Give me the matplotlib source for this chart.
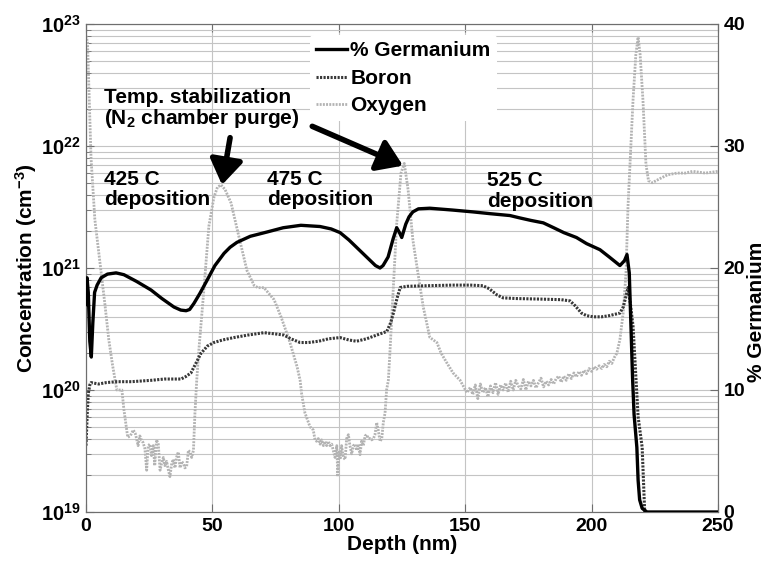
import matplotlib
matplotlib.use("Agg")
import matplotlib.pyplot as plt
from matplotlib.lines import Line2D

plt.rcParams['font.family'] = ['Liberation Sans', 'DejaVu Sans']
plt.rcParams['font.weight'] = 'bold'
plt.rcParams['mathtext.fontset'] = 'custom'
plt.rcParams['mathtext.rm'] = 'Liberation Sans:bold'
plt.rcParams['mathtext.it'] = 'Liberation Sans:bold:italic'
plt.rcParams['mathtext.bf'] = 'Liberation Sans:bold'
plt.rcParams['mathtext.default'] = 'rm'

# ---- SIMS depth profile data ----
# Germanium fraction (%), right axis
ge_depth = [0.0, 0.4, 0.9, 1.5, 2.1, 2.7, 3.4, 4.4, 6.0, 8.5, 11.9, 15.0, 20.0,
            25.7, 30.0, 34.8, 37.5, 39.6, 41.0, 42.7, 45.0, 47.9, 51.0, 54.6,
            57.0, 59.7, 65.0, 71.6, 78.0, 85.0, 92.6, 97.0, 100.5, 104.0,
            107.0, 110.0, 112.0, 114.5, 116.3, 117.5, 119.5, 121.5, 122.9,
            124.0, 124.9, 126.5, 127.8, 129.3, 131.5, 136.0, 145.0, 153.0,
            160.0, 167.7, 171.7, 176.0, 180.9, 185.0, 189.0, 194.0, 198.0,
            203.3, 207.0, 211.2, 213.0, 214.0, 214.9, 215.6, 216.2, 216.8,
            217.9, 218.4, 219.0, 220.0, 221.9, 235.0, 250.0]
ge_pct = [17.0, 19.2, 18.0, 14.0, 12.7, 15.5, 18.0, 18.6, 19.2, 19.5, 19.6, 19.45,
          18.9, 18.2, 17.5, 16.8, 16.55, 16.5, 16.6, 17.1, 17.9, 19.0, 20.2,
          21.2, 21.7, 22.1, 22.6, 22.95, 23.3, 23.5, 23.4, 23.2, 22.9, 22.3,
          21.7, 21.1, 20.7, 20.2, 20.0, 20.2, 20.9, 22.4, 23.3, 22.9, 22.5,
          23.6, 24.2, 24.6, 24.85, 24.9, 24.75, 24.6, 24.45, 24.3, 24.1, 23.9,
          23.7, 23.3, 22.9, 22.5, 22.0, 21.5, 20.9, 20.2, 20.6, 21.1, 19.6,
          15.0, 11.0, 8.0, 5.3, 2.6, 1.0, 0.3, 0.0, 0.0, 0.0]

# Boron concentration (cm^-3), left axis
b_depth = [0.0, 0.5, 0.9, 1.5, 2.0, 5.0, 8.0, 12.2, 18.0, 25.7, 31.0, 37.6, 39.5,
           41.5, 43.5, 45.5, 48.0, 50.6, 54.0, 58.5, 64.0, 70.4, 75.0, 78.3,
           81.0, 84.7, 88.0, 92.0, 96.0, 100.5, 104.0, 107.0, 111.0, 115.0,
           119.0, 120.5, 121.6, 123.0, 124.3, 127.0, 135.0, 145.0, 152.0,
           157.0, 159.5, 162.5, 165.0, 170.0, 180.0, 188.0, 191.5, 193.5,
           196.0, 198.0, 200.6, 204.0, 207.0, 211.2, 212.5, 213.5, 214.4,
           215.4, 216.4, 217.4, 218.4, 220.0, 221.0, 222.0]
b_conc = [3.5e19, 6.5e19, 9.3e19, 1.10e20, 1.15e20, 1.12e20, 1.15e20, 1.17e20,
          1.17e20, 1.20e20, 1.23e20, 1.23e20, 1.29e20, 1.38e20, 1.66e20,
          2.0e20, 2.29e20, 2.45e20, 2.57e20, 2.69e20, 2.82e20, 2.95e20,
          2.88e20, 2.82e20, 2.63e20, 2.45e20, 2.45e20, 2.51e20, 2.63e20,
          2.69e20, 2.57e20, 2.51e20, 2.63e20, 2.82e20, 3.02e20, 3.55e20,
          4.27e20, 5.62e20, 6.92e20, 7.08e20, 7.16e20, 7.24e20, 7.24e20,
          7.16e20, 6.76e20, 6.03e20, 5.69e20, 5.62e20, 5.56e20, 5.50e20,
          5.37e20, 4.90e20, 4.27e20, 4.07e20, 3.98e20, 3.98e20, 4.07e20,
          4.27e20, 4.79e20, 5.75e20, 6.92e20, 5.01e20, 3.31e20, 1.41e20,
          6.03e19, 3.39e19, 1.0e19, 1.0e18]

# Oxygen concentration (cm^-3), left axis: (depth nm, concentration)
oxygen_points = [
    (0.0, 8.0e22), (0.6, 7.1e22), (1.2, 2.8e22), (2.0, 7.9e21), (3.5, 2.5e21),
    (5.9, 9.5e20), (7.5, 5.0e20), (9.0, 2.6e20), (10.5, 1.6e20), (12.2, 1.0e20),
    (14.2, 1.0e20), (15.0, 6.9e19), (16.5, 4.1e19), (17.5, 4.2e19), (18.7, 4.7e19),
    (19.5, 4.4e19), (20.0, 4.0e19), (20.6, 3.5e19), (21.3, 4.2e19), (21.9, 3.9e19),
    (22.6, 3.7e19), (23.3, 3.3e19), (24.0, 2.2e19), (24.6, 3.5e19), (25.3, 3.6e19),
    (25.9, 2.9e19), (26.6, 3.5e19), (27.2, 2.4e19), (27.9, 3.9e19), (28.6, 3.6e19),
    (29.3, 2.2e19), (29.9, 2.5e19), (30.6, 2.8e19), (31.2, 2.4e19), (31.9, 2.6e19),
    (32.6, 2.2e19), (33.2, 1.95e19), (33.9, 2.5e19), (34.5, 2.7e19), (35.2, 2.3e19),
    (35.8, 2.8e19), (36.5, 3.1e19), (37.2, 2.3e19), (37.8, 2.6e19), (38.5, 2.5e19),
    (39.1, 2.3e19), (39.8, 2.35e19), (40.5, 3.2e19), (41.1, 3.1e19), (41.8, 2.8e19),
    (42.5, 3.2e19), (43.1, 6.5e19), (43.8, 1.2e20), (44.7, 2.2e20), (46.7, 6.9e20),
    (48.6, 2.2e21), (50.6, 3.8e21), (52.0, 4.6e21), (53.4, 4.8e21), (55.0, 4.4e21),
    (57.4, 3.4e21), (60.5, 1.8e21), (63.7, 9.5e20), (66.5, 7.2e20), (68.0, 6.9e20),
    (70.4, 6.9e20), (72.0, 6.3e20), (74.4, 5.5e20), (77.1, 4.0e20), (80.3, 2.6e20),
    (83.5, 1.55e20), (84.7, 1.2e20), (85.3, 9.3e19), (86.6, 6.5e19), (88.6, 5.0e19),
    (89.9, 4.7e19), (90.6, 3.9e19), (91.2, 3.8e19), (91.9, 4.0e19), (92.6, 3.6e19),
    (93.2, 3.9e19), (93.9, 3.5e19), (94.5, 3.8e19), (95.2, 3.5e19), (95.9, 3.8e19),
    (96.5, 3.5e19), (97.2, 3.6e19), (97.8, 3.2e19), (98.5, 2.8e19), (99.2, 3.5e19),
    (99.6, 1.95e19), (100.1, 3.1e19), (100.5, 2.7e19), (101.1, 3.5e19), (101.8, 2.8e19),
    (102.5, 2.7e19), (103.1, 4.0e19), (103.8, 4.3e19), (104.4, 3.5e19), (105.1, 3.0e19),
    (105.8, 3.5e19), (106.4, 3.6e19), (107.1, 3.2e19), (107.7, 3.6e19), (108.4, 2.95e19),
    (109.0, 3.8e19), (109.7, 3.5e19), (110.4, 4.2e19), (111.0, 4.3e19), (111.7, 4.0e19),
    (112.3, 4.0e19), (113.0, 3.9e19), (113.7, 4.0e19), (114.3, 4.3e19), (115.0, 5.4e19),
    (115.6, 4.7e19), (116.3, 3.8e19), (117.0, 4.0e19), (117.6, 5.4e19), (118.3, 6.5e19),
    (118.9, 1.0e20), (119.6, 1.2e20), (120.2, 2.0e20), (121.5, 6.6e20), (122.9, 2.3e21),
    (124.6, 6.0e21), (125.9, 7.2e21), (127.4, 4.4e21), (129.3, 1.7e21), (131.3, 9.1e20),
    (133.4, 4.8e20), (136.0, 2.7e20), (138.8, 2.45e20), (140.5, 2.0e20), (142.8, 1.66e20),
    (145.2, 1.38e20), (148.0, 1.2e20), (150.7, 9.5e19), (152.0, 1.05e20), (153.0, 0.92e20),
    (154.0, 1.1e20), (155.0, 0.85e20), (156.0, 1.12e20), (157.0, 0.95e20), (158.0, 1.05e20),
    (159.0, 0.88e20), (160.0, 1.08e20), (161.0, 0.95e20), (162.0, 1.15e20), (163.0, 0.92e20),
    (164.0, 1.1e20), (165.0, 1.0e20), (166.0, 1.14e20), (167.0, 0.96e20), (168.0, 1.18e20),
    (169.0, 1.0e20), (170.0, 1.2e20), (171.0, 1.08e20), (172.0, 1.02e20), (173.0, 1.22e20),
    (174.0, 1.0e20), (175.0, 1.18e20), (176.0, 1.08e20), (177.0, 1.2e20), (178.0, 1.04e20),
    (179.0, 1.15e20), (180.0, 1.25e20), (181.0, 1.06e20), (182.0, 1.18e20), (183.0, 1.1e20),
    (184.0, 1.22e20), (185.0, 1.12e20), (186.0, 1.24e20), (187.0, 1.3e20), (188.0, 1.16e20),
    (189.0, 1.3e20), (190.0, 1.2e20), (191.0, 1.36e20), (192.0, 1.24e20), (193.0, 1.38e20),
    (194.0, 1.28e20), (195.0, 1.42e20), (196.0, 1.32e20), (197.0, 1.45e20), (198.0, 1.36e20),
    (199.0, 1.5e20), (200.0, 1.42e20), (201.0, 1.55e20), (202.0, 1.48e20), (203.0, 1.58e20),
    (204.0, 1.5e20), (205.0, 1.62e20), (206.0, 1.55e20), (207.0, 1.72e20), (208.0, 1.65e20),
    (209.0, 1.85e20), (210.0, 2.0e20), (211.2, 2.6e20), (212.5, 4.3e20), (213.6, 9.1e20),
    (214.4, 3.2e21), (215.6, 1.1e22), (216.4, 2.4e22), (217.5, 5.6e22), (218.4, 7.8e22),
    (219.2, 5.6e22), (220.3, 2.4e22), (221.5, 7.1e21), (222.5, 5.2e21), (224.0, 5.0e21),
    (227.0, 5.4e21), (230.0, 5.8e21), (233.8, 6.0e21), (237.0, 6.0e21), (240.0, 6.2e21),
    (245.0, 6.0e21), (250.0, 6.2e21),
]
o_depth = [p[0] for p in oxygen_points]
o_conc = [p[1] for p in oxygen_points]

# labels
series_names = ['% Germanium', 'Boron', 'Oxygen']
phase_labels = ['425 C\ndeposition', '475 C\ndeposition', '525 C\ndeposition']
purge_label = 'Temp. stabilization\n(N$_2$ chamber purge)'
left_ticks = [1e19, 1e20, 1e21, 1e22, 1e23]
left_tick_labels = [r'$10^{19}$', r'$10^{20}$', r'$10^{21}$', r'$10^{22}$', r'$10^{23}$']
right_ticks = [0, 10, 20, 30, 40]
x_ticks = [0, 50, 100, 150, 200, 250]

# ---- figure ----
fig = plt.figure(figsize=(7.68, 5.61), dpi=100)
ax1 = fig.add_axes([86 / 768, 1 - 512 / 561, 632 / 768, 488 / 561])

frame_col = '#6e6e6e'
grid_col = '#c4c4c4'
dot = (0, (0.7, 0.45))
txt_size = 15

ax1.plot(o_depth, o_conc, color='#b3b3b3', lw=2.0, ls=dot, zorder=3)
ax1.plot(b_depth, b_conc, color='#383838', lw=2.2, ls=dot, zorder=4)
ax1.set_yscale('log')
ax1.set_xlim(0, 250)
ax1.set_ylim(1e19, 1e23)
ax1.set_xticks(x_ticks)
ax1.set_xticklabels([str(v) for v in x_ticks], fontsize=14, fontweight='bold')
ax1.set_yticks(left_ticks)
ax1.set_yticklabels(left_tick_labels, fontsize=14.5)
ax1.grid(True, which='both', axis='y', color=grid_col, lw=0.8)
ax1.grid(True, which='major', axis='x', color=grid_col, lw=0.8)
ax1.set_axisbelow(True)
ax1.tick_params(which='both', direction='in', top=True, right=True,
                color=frame_col, labelcolor='black')
ax1.tick_params(which='major', length=6, pad=4)
ax1.tick_params(which='minor', length=3.5)
ax1.tick_params(axis='x', which='minor', bottom=False, top=False)
for sp in ax1.spines.values():
    sp.set_color(frame_col)
ax1.set_xlabel('Depth (nm)', fontsize=txt_size, fontweight='bold', labelpad=0)
ax1.set_ylabel(r'Concentration (cm$^{-3}$)', fontsize=txt_size, fontweight='bold', labelpad=1)

ax2 = ax1.twinx()
ax2.plot(ge_depth, ge_pct, color='black', lw=2.4, zorder=5)
ax2.set_ylim(0, 40)
ax2.set_yticks(right_ticks)
ax2.set_yticklabels([str(v) for v in right_ticks], fontsize=14, fontweight='bold')
ax2.tick_params(direction='in', length=6, color=frame_col, labelcolor='black', pad=4)
for sp in ax2.spines.values():
    sp.set_color(frame_col)
ax2.set_ylabel('% Germanium', fontsize=txt_size, fontweight='bold')
ax2.yaxis.set_label_coords(1.046, 0.41)

# deposition stage labels
ax1.text(7.1, 6.4e21, phase_labels[0], fontsize=txt_size, fontweight='bold',
         va='top', ha='left', linespacing=1.1, zorder=6)
ax1.text(71.6, 6.4e21, phase_labels[1], fontsize=txt_size, fontweight='bold',
         va='top', ha='left', linespacing=1.1, zorder=6)
ax1.text(158.6, 6.2e21, phase_labels[2], fontsize=txt_size, fontweight='bold',
         va='top', ha='left', linespacing=1.1, zorder=6)
ax1.text(7.0, 3.0e22, purge_label, fontsize=txt_size, fontweight='bold',
         va='top', ha='left', linespacing=1.0, zorder=6)

arrow_kw = dict(arrowstyle='-|>,head_length=0.75,head_width=0.5', lw=4.0,
                color='black', shrinkA=0, shrinkB=0, mutation_scale=20)
ax1.annotate('', xy=(53.8, 4.8e21), xytext=(57.0, 1.17e22), arrowprops=arrow_kw, zorder=7)
ax1.annotate('', xy=(125.4, 6.9e21), xytext=(89.5, 1.45e22), arrowprops=arrow_kw, zorder=7)

handles = [Line2D([], [], color='black', lw=2.4),
           Line2D([], [], color='#383838', lw=2.2, ls=dot),
           Line2D([], [], color='#b3b3b3', lw=2.0, ls=dot)]
leg = ax2.legend(handles, series_names, loc='upper left',
                 bbox_to_anchor=(0.354, 0.977), fontsize=txt_size, frameon=True,
                 handlelength=1.5, handletextpad=0.15, labelspacing=0.4,
                 borderpad=0.3, borderaxespad=0.0)
leg.get_frame().set_facecolor('white')
leg.get_frame().set_edgecolor('none')
leg.get_frame().set_alpha(1.0)
for t in leg.get_texts():
    t.set_fontweight('bold')

fig.savefig('out.png', dpi=100, facecolor='white')
